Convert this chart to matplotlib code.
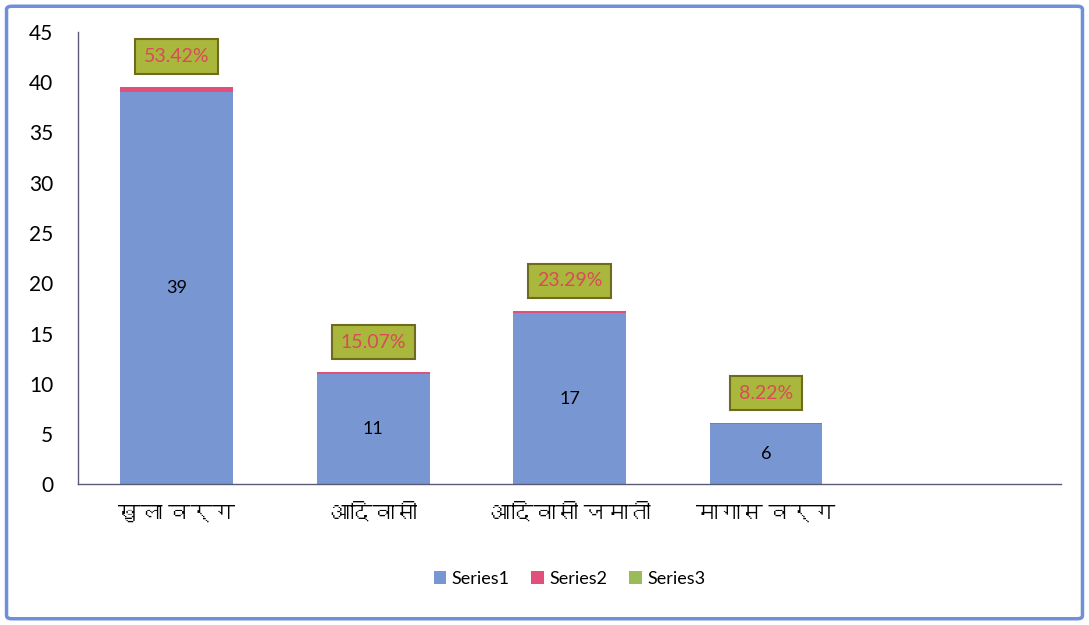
import matplotlib.pyplot as plt
import matplotlib.font_manager as fm
from matplotlib.ft2font import FT2Font
from matplotlib.patches import FancyBboxPatch
import numpy as np

categories = ['खुला वर्ग', 'आदिवासी', 'आदिवासी जमाती', 'मागास वर्ग', '']
series1 = [39, 11, 17, 6, 0]
series2 = [0.5342, 0.1507, 0.2329, 0.0822, 0]
percent_labels = ['53.42%', '15.07%', '23.29%', '8.22%', '']


def find_devanagari_font():
    for f in fm.fontManager.ttflist:
        try:
            if 0x0916 in FT2Font(f.fname).get_charmap():
                return f.name
        except Exception:
            pass
    return None


deva = find_devanagari_font()
base = 'Lato'
fams = [base, 'DejaVu Sans'] if deva is None else [base, deva, 'DejaVu Sans']
plt.rcParams['font.family'] = fams

c1 = '#7896d2'
c2 = '#e0507a'
c3 = '#9bbb59'

fig = plt.figure(figsize=(10.89, 6.25), dpi=100)
ax = fig.add_axes([0.072, 0.225, 0.902, 0.724])

x = np.arange(len(categories))
w = 0.575
ax.bar(x, series1, w, color=c1, label='Series1')
ax.bar(x, series2, w, bottom=series1, color=c2, label='Series2')
ax.bar(x, [0] * len(x), w, color=c3, label='Series3')

for i in range(4):
    ax.text(x[i], series1[i] / 2, str(series1[i]), ha='center', va='center',
            fontsize=13, color='black')
    top = series1[i] + series2[i]
    ax.text(x[i], top + 3.0, percent_labels[i], ha='center', va='center',
            fontsize=14, color='#d94a5a',
            bbox=dict(boxstyle='square,pad=0.45', fc='#a9b83c', ec='#6e6a20', lw=1.5))

ax.set_xlim(-0.5, len(x) - 0.5)
ax.set_ylim(0, 45)
ax.set_yticks(range(0, 46, 5))
ax.set_xticks(x[:4])
ax.set_xticklabels(categories[:4], fontsize=16)
ax.tick_params(axis='y', labelsize=15, length=0, pad=18)
ax.tick_params(axis='x', length=0, pad=14)
for s in ['top', 'right']:
    ax.spines[s].set_visible(False)
for s in ['left', 'bottom']:
    ax.spines[s].set_color('#5a5a78')
    ax.spines[s].set_linewidth(1.0)

ax.legend(loc='upper center', bbox_to_anchor=(0.5, -0.155), ncol=3, frameon=False,
          fontsize=13, handlelength=0.7, handleheight=0.7, columnspacing=1.2,
          handletextpad=0.3)

border = FancyBboxPatch((0.006, 0.01), 0.988, 0.98, boxstyle='round,pad=0,rounding_size=0.005',
                        transform=fig.transFigure, fill=False, ec='#6f8fd8', lw=2.5)
fig.patches.append(border)

fig.savefig('out.png', dpi=100)
